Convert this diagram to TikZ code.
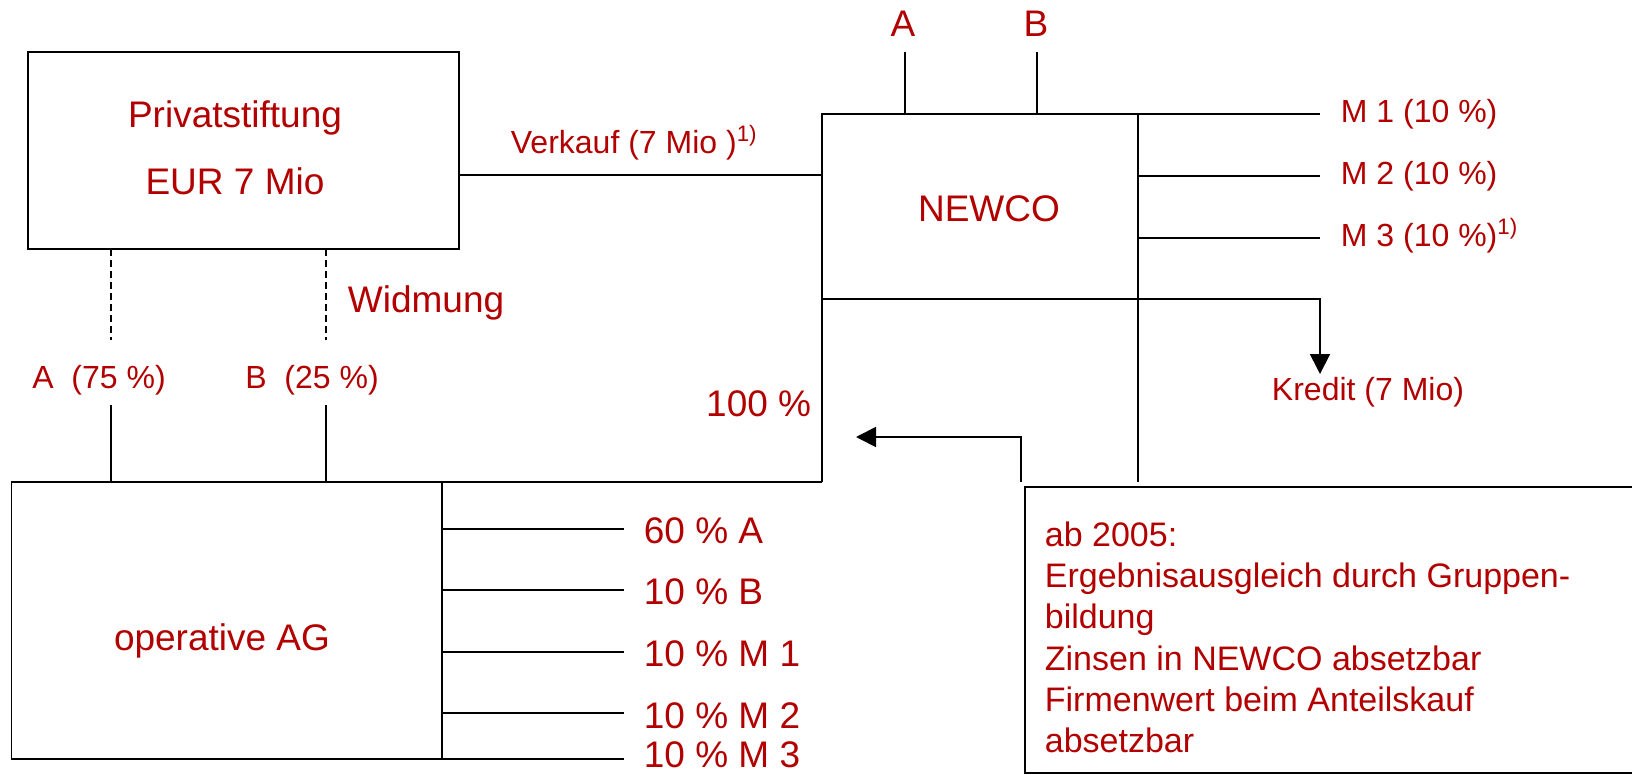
\documentclass[tikz,border=0pt]{standalone}
\usepackage{fontspec}
\setmainfont{Liberation Sans}
\usetikzlibrary{arrows.meta}
\definecolor{dred}{RGB}{178,0,0}
\begin{document}
\begin{tikzpicture}[x=0.5pt,y=-0.5pt,line width=0.9pt,
  big/.style={text=dred,inner sep=0pt,font=\fontsize{18.5}{22}\selectfont},
  sml/.style={text=dred,inner sep=0pt,font=\fontsize{16}{19}\selectfont},
  note/.style={text=dred,inner sep=0pt,font=\fontsize{17}{20}\selectfont},
  dash line/.style={dashed,dash pattern=on 3.5pt off 2pt,line width=0.9pt},
  tip/.style={-{Triangle[length=10pt,width=10pt]}}]
\useasboundingbox (0,0) rectangle (1632,775);

% ---------- Privatstiftung
\coordinate (psTL) at (28,52);
\coordinate (psBR) at (459,249);
\draw (psTL) rectangle (psBR);
\node[big,anchor=base] (ps1) at (235,128) {Privatstiftung};
\node[big,anchor=base] (ps2) at (235,195) {EUR 7 Mio};

% dashed Widmung lines
\coordinate (dA1) at (111,249); \coordinate (dA2) at (111,340);
\coordinate (dB1) at (326,249); \coordinate (dB2) at (326,340);
\draw[dash line] (dA1) -- (dA2);
\draw[dash line] (dB1) -- (dB2);
\node[big,anchor=base west] (widm) at (347,313) {Widmung};
\node[sml,anchor=base] (a75) at (99,388) {A\ \ (75 \%)};
\node[sml,anchor=base] (b25) at (312,388) {B\ \ (25 \%)};

% ---------- operative AG
\coordinate (agTL) at (11.5,482);
\coordinate (agIR) at (442,482);
\coordinate (agBL) at (11.5,759);
\coordinate (agBR) at (442,759);
\coordinate (agBE) at (624,759);
\coordinate (nwL) at (822,482);
\draw (nwL) -- (agTL) -- (agBL) -- (agBE);
\draw (agIR) -- (agBR);
\node[big,anchor=base] (ag) at (222,650) {operative AG};

\coordinate (lA) at (111,405); \coordinate (lAb) at (111,482);
\coordinate (lB) at (326,405); \coordinate (lBb) at (326,482);
\draw (lA) -- (lAb);
\draw (lB) -- (lBb);

\foreach \y [count=\i] in {529,590,652,713}{
  \coordinate (s\i) at (442,\y);
  \coordinate (e\i) at (624,\y);
  \draw (s\i) -- (e\i);
}
\node[big,anchor=base west] (p1) at (643,543) {60 \% A};
\node[big,anchor=base west] (p2) at (643,604) {10 \% B};
\node[big,anchor=base west] (p3) at (643,666) {10 \% M 1};
\node[big,anchor=base west] (p4) at (643,728) {10 \% M 2};
\node[big,anchor=base west] (p5) at (643,767) {10 \% M 3};

% ---------- Verkauf line
\coordinate (vk1) at (459,175);
\coordinate (vk2) at (822,175);
\draw (vk1) -- (vk2);
\node[sml,anchor=base west] (vk) at (510,154) {Verkauf (7 Mio )\textsuperscript{1)}};

% ---------- NEWCO
\coordinate (nwTL) at (822,114);
\coordinate (nwTR) at (1138,114);
\coordinate (nwBL) at (822,299);
\coordinate (nwIB) at (1138,482);
\coordinate (m1) at (1320,114);
\coordinate (m2s) at (1138,176); \coordinate (m2) at (1320,176);
\coordinate (m3s) at (1138,238); \coordinate (m3) at (1320,238);
\coordinate (kr) at (1320,299);
\coordinate (krT) at (1320,374);
\draw (m1) -- (nwTL) -- (nwL);
\draw (nwTR) -- (nwIB);
\draw (m2s) -- (m2);
\draw (m3s) -- (m3);
\draw[tip] (nwBL) -- (kr) -- (krT);
\node[big,anchor=base] (newco) at (989,222) {NEWCO};
\node[big,anchor=base] (topA) at (903,37) {A};
\node[big,anchor=base] (topB) at (1036,37) {B};
\coordinate (tA) at (905,52); \coordinate (tAb) at (905,114);
\coordinate (tB) at (1037,52); \coordinate (tBb) at (1037,114);
\draw (tA) -- (tAb);
\draw (tB) -- (tBb);
\node[sml,anchor=base west] (mm1) at (1340,123) {M 1 (10 \%)};
\node[sml,anchor=base west] (mm2) at (1340,185) {M 2 (10 \%)};
\node[sml,anchor=base west] (mm3) at (1340,247) {M 3 (10 \%)\textsuperscript{1)}};
\node[sml,anchor=base] (kred) at (1368,400) {Kredit (7 Mio)};
\node[big,anchor=base east] (hund) at (812,416) {100 \%};

% ---------- note box
\coordinate (nbTL) at (1025,487);
\coordinate (nbBL) at (1025,773);
\coordinate (nbTR) at (1640,487);
\coordinate (nbBR) at (1640,773);
\draw (nbTR) -- (nbTL) -- (nbBL) -- (nbBR);
\coordinate (ar1) at (1021,482);
\coordinate (ar2) at (1021,437);
\coordinate (ar3) at (856,437);
\draw[tip] (ar1) -- (ar2) -- (ar3);
\node[note,anchor=base west] (n1) at (1044,546) {ab 2005:};
\node[note,anchor=base west] (n2) at (1044,587) {Ergebnisausgleich durch Gruppen-};
\node[note,anchor=base west] (n3) at (1044,628) {bildung};
\node[note,anchor=base west] (n4) at (1044,670) {Zinsen in NEWCO absetzbar};
\node[note,anchor=base west] (n5) at (1044,711) {Firmenwert beim Anteilskauf};
\node[note,anchor=base west] (n6) at (1044,752) {absetzbar};
\end{tikzpicture}
\end{document}
